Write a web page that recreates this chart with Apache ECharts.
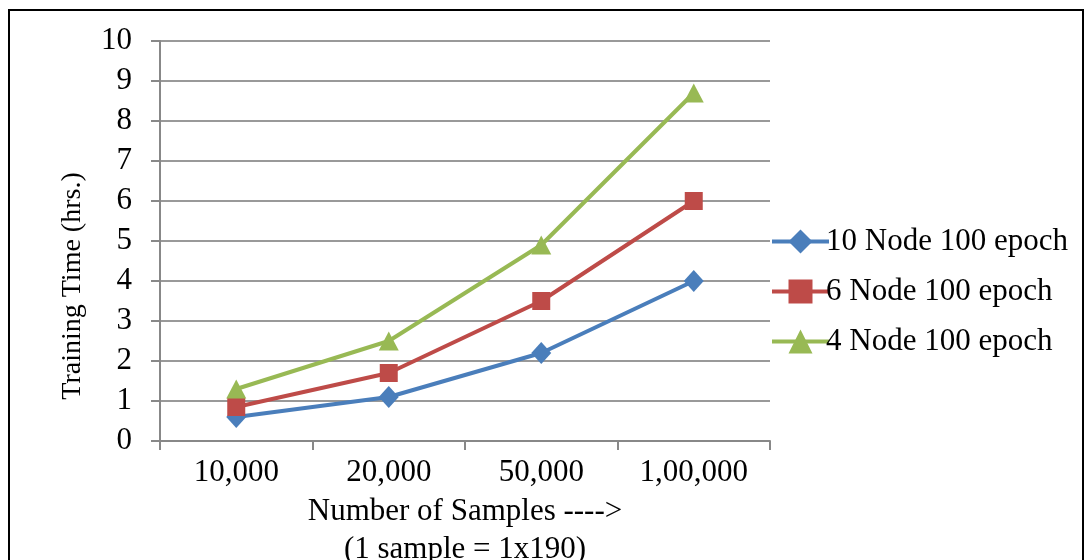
<!DOCTYPE html>
<html>
<head>
<meta charset="utf-8">
<script src="https://cdn.jsdelivr.net/npm/echarts@6/dist/echarts.min.js"></script>
<style>
html,body{margin:0;padding:0;background:#fff;}
#chart{width:1086px;height:560px;}
</style>
</head>
<body>
<div id="chart"></div>
<script>
const categories = ['10,000', '20,000', '50,000', '1,00,000'];
const seriesNames = ['10 Node 100 epoch', '6 Node 100 epoch', '4 Node 100 epoch'];
const node10 = [0.6, 1.1, 2.2, 4.0];
const node6 = [0.85, 1.7, 3.5, 6.0];
const node4 = [1.3, 2.5, 4.9, 8.7];
const yTicks = [0, 1, 2, 3, 4, 5, 6, 7, 8, 9, 10];
const xTitle = 'Number of Samples ---->\n(1 sample = 1x190)';
const yTitle = 'Training Time (hrs.)';

const FONT = '"Liberation Serif", "Times New Roman", serif';
const FS = 31;
const colors = ['#4A7EBB', '#BE4B48', '#98B954'];
const symbols = ['diamond', 'rect', 'triangle'];
const sizes = [[20, 22], 18, [20, 19]];
const data = [node10, node6, node4];

const chart = echarts.init(document.getElementById('chart'), null, {renderer: 'canvas'});
chart.setOption({
  backgroundColor: '#fff',
  animation: false,
  textStyle: {fontFamily: FONT},
  grid: {left: 160, right: 316, top: 41, bottom: 119, containLabel: false, outerBoundsMode: 'none'},
  xAxis: {
    type: 'category',
    data: categories,
    boundaryGap: true,
    axisLine: {show: true, lineStyle: {color: '#888', width: 2}},
    axisTick: {show: true, length: 9, lineStyle: {color: '#888', width: 2}},
    axisLabel: {color: '#000', fontSize: FS, fontFamily: FONT, margin: 16},
    splitLine: {show: false},
    name: xTitle,
    nameLocation: 'middle',
    nameGap: 47,
    nameTextStyle: {color: '#000', fontSize: FS, fontFamily: FONT, lineHeight: 38}
  },
  yAxis: {
    type: 'value',
    min: yTicks[0],
    max: yTicks[yTicks.length - 1],
    interval: 1,
    axisLine: {show: true, lineStyle: {color: '#888', width: 2}},
    axisTick: {show: true, length: 9, lineStyle: {color: '#888', width: 2}},
    axisLabel: {color: '#000', fontSize: FS, fontFamily: FONT, margin: 28},
    splitLine: {show: true, lineStyle: {color: '#999', width: 2}}
  },
  legend: {
    orient: 'vertical',
    left: 765,
    top: 221,
    itemGap: 19,
    itemWidth: 57,
    itemHeight: 30,
    lineStyle: {width: 4},
    textStyle: {color: '#000', fontSize: FS, fontFamily: FONT, padding: [0, 0, 0, -8]},
    data: seriesNames
  },
  graphic: [
    {type: 'rect', shape: {x: 9, y: 10, width: 1074, height: 600}, style: {fill: 'none', stroke: '#000', lineWidth: 2}, silent: true, z: -1},
    {type: 'text', x: 73, y: 286, rotation: Math.PI / 2, style: {text: yTitle, fill: '#000', font: '28px ' + FONT, textAlign: 'center', textVerticalAlign: 'middle'}}
  ],
  series: seriesNames.map((n, i) => ({
    name: n,
    type: 'line',
    data: data[i],
    symbol: symbols[i],
    symbolSize: sizes[i],
    lineStyle: {color: colors[i], width: 4},
    itemStyle: {color: colors[i]},
    z: 3 + i
  }))
});
</script>
</body>
</html>
